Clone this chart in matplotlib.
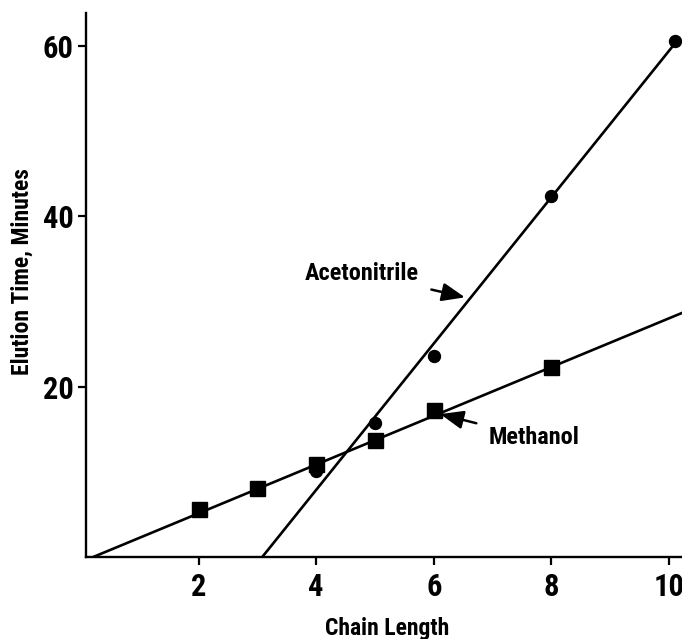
import matplotlib.pyplot as plt

meth_x = [2, 3, 4, 5, 6, 8]
meth_y = [5.6, 8.1, 10.9, 13.8, 17.3, 22.3]
acn_x = [4, 5, 6, 8, 10.1]
acn_y = [10.1, 15.7, 23.6, 42.4, 60.6]

# fitted lines (endpoints)
meth_fit_x = [0.2, 10.3]
meth_fit_y = [0.0, 28.9]
acn_fit_x = [3.08, 10.1]
acn_fit_y = [0.0, 60.3]

xticks = [2, 4, 6, 8, 10]
yticks = [20, 40, 60]

plt.rcParams['font.family'] = ['Roboto Condensed', 'DejaVu Sans']

fig = plt.figure(figsize=(6.82, 6.39), dpi=100)
ax = fig.add_axes([0.126, 0.128, 0.874, 0.852])

ax.plot(acn_fit_x, acn_fit_y, color='k', lw=1.9, zorder=2)
ax.plot(meth_fit_x, meth_fit_y, color='k', lw=1.9, zorder=2)
ax.plot(acn_x, acn_y, 'o', color='k', ms=8.6, zorder=3)
ax.plot(meth_x, meth_y, 's', color='k', ms=10.8, zorder=4)

arrow = dict(arrowstyle='-|>,head_length=0.8,head_width=0.32',
             color='k', lw=1.8, shrinkA=7, shrinkB=0)
ax.annotate('Acetonitrile', xy=(6.53, 30.5), xytext=(5.75, 33.3),
            fontsize=17.5, fontweight='bold', ha='right', va='center',
            arrowprops=arrow)
ax.annotate('Methanol', xy=(6.11, 16.8), xytext=(6.93, 14.0),
            fontsize=17.5, fontweight='bold', ha='left', va='center',
            arrowprops=arrow)

ax.set_xlim(0.085, 10.22)
ax.set_ylim(0, 63.9)
ax.set_xticks(xticks)
ax.set_yticks(yticks)
ax.tick_params(direction='out', length=6, width=1.6, labelsize=22)
ax.tick_params(axis='x', pad=5)
ax.tick_params(axis='y', pad=3)
for lab in ax.get_xticklabels() + ax.get_yticklabels():
    lab.set_fontweight('bold')

for s in ['top', 'right']:
    ax.spines[s].set_visible(False)
for s in ['left', 'bottom']:
    ax.spines[s].set_linewidth(1.7)

ax.set_xlabel('Chain Length', fontsize=17, fontweight='bold')
ax.set_ylabel('Elution Time, Minutes', fontsize=17, fontweight='bold')
ax.xaxis.set_label_coords(0.505, -0.11)
ax.yaxis.set_label_coords(-0.088, 0.524)

fig.savefig('out.png', dpi=100)
